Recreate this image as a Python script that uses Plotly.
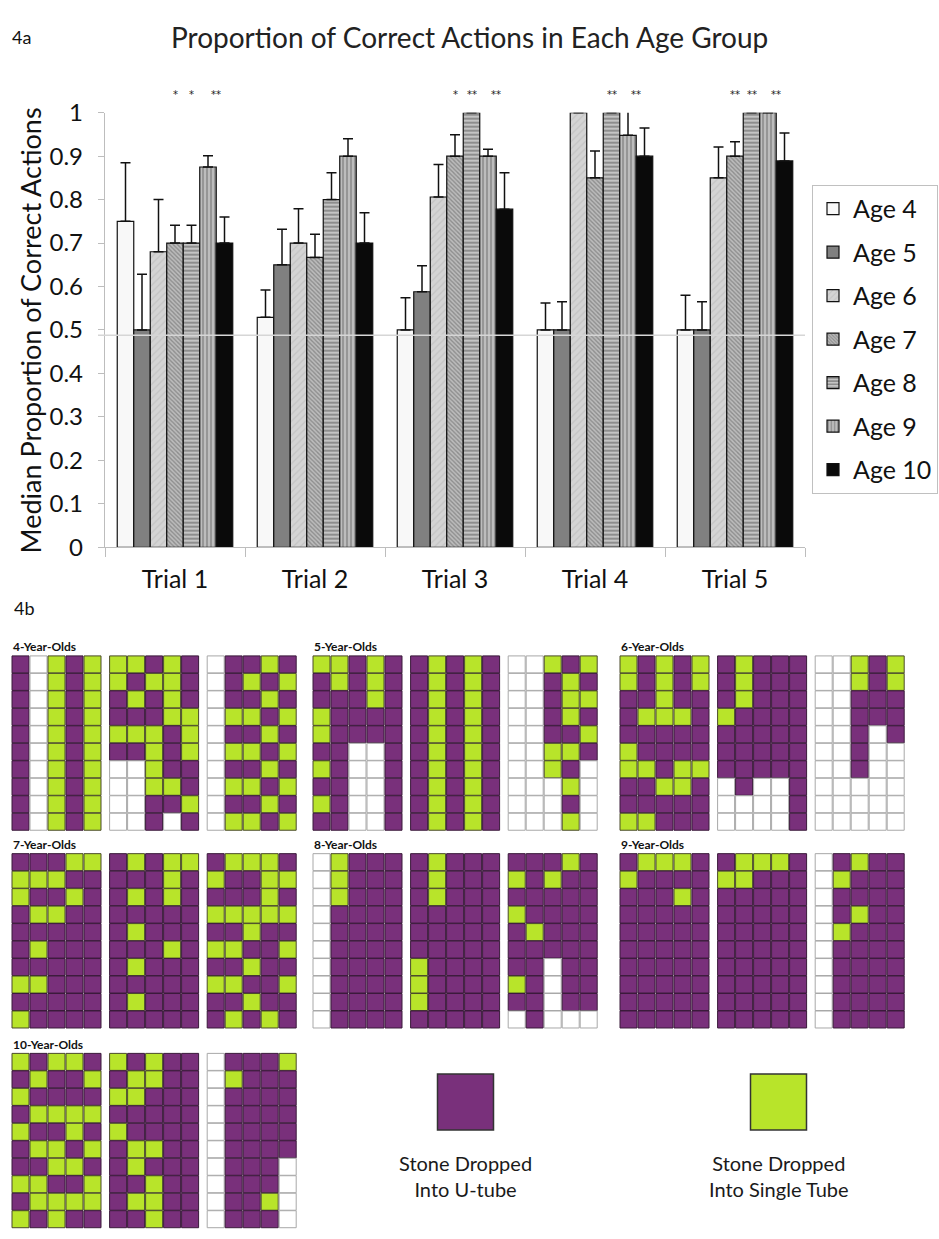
import plotly.graph_objects as go

# ---------------- DATA: 4a bar chart ----------------
trials = ["Trial 1", "Trial 2", "Trial 3", "Trial 4", "Trial 5"]
ages = ["Age 4", "Age 5", "Age 6", "Age 7", "Age 8", "Age 9", "Age 10"]

median_age4 = [0.75, 0.529, 0.50, 0.50, 0.50]
median_age5 = [0.50, 0.65, 0.588, 0.50, 0.50]
median_age6 = [0.68, 0.70, 0.806, 1.0, 0.85]
median_age7 = [0.70, 0.667, 0.90, 0.85, 0.90]
median_age8 = [0.70, 0.80, 1.0, 1.0, 1.0]
median_age9 = [0.875, 0.90, 0.90, 0.948, 1.0]
median_age10 = [0.70, 0.70, 0.778, 0.90, 0.889]

upper_age4 = [0.885, 0.592, 0.574, 0.562, 0.58]
upper_age5 = [0.628, 0.732, 0.648, 0.565, 0.565]
upper_age6 = [0.80, 0.779, 0.881, 1.003, 0.921]
upper_age7 = [0.741, 0.72, 0.949, 0.912, 0.933]
upper_age8 = [0.741, 0.862, 1.003, 1.003, 1.007]
upper_age9 = [0.901, 0.94, 0.916, 1.008, 1.0]
upper_age10 = [0.76, 0.77, 0.862, 0.965, 0.953]

medians = [median_age4, median_age5, median_age6, median_age7,
           median_age8, median_age9, median_age10]
uppers = [upper_age4, upper_age5, upper_age6, upper_age7,
          upper_age8, upper_age9, upper_age10]

chance_level = 0.488

# significance stars: (trial index, age slot, label)
star_trial = [0, 0, 0, 2, 2, 2, 3, 3, 4, 4, 4]
star_slot = [3, 4, 5.5, 3, 4, 5.5, 4, 5.5, 3, 4, 5.5]
star_text = ["*", "*", "**", "*", "**", "**", "**", "**", "**", "**", "**"]

# ---------------- DATA: 4b action grids ----------------
# U = stone dropped into U-tube, S = into single tube, . = no action
age_groups = ["4-Year-Olds", "5-Year-Olds", "6-Year-Olds",
              "7-Year-Olds", "8-Year-Olds", "9-Year-Olds", "10-Year-Olds"]

grids_4 = [
    ["U.SUS"] * 10,
    ["SSUSU", "SUSSU", "USUSU", "UUUSS", "SSSUS",
     "UUSUS", "..SUU", "..SSU", "..UUS", "..U.U"],
    [".UUSU", ".USUS", ".UUSU", ".SSUS", ".UUSU",
     ".SSUS", ".UUSU", ".SSUS", ".UUSU", ".SSUS"],
]
grids_5 = [
    ["SSUSU", "USUSU", "UUUSU", "SUUUU", "SUUUU",
     "UU..U", "SU..U", "UU..U", "SU..U", "UU..U"],
    ["USUSU"] * 10,
    ["..SUS", "..USU", "..USS", "..USU", "..UUS",
     "..SSU", "..SU.", "...S.", "...U.", "...S."],
]
grids_6 = [
    ["SUSUS", "SUSUS", "UUSUU", "USSSU", "UUUUU",
     "SUUUU", "SSUSS", "UUSSU", "UUUUU", "SSUUU"],
    ["USUUU", "USUUU", "USUUU", "SUUUU", "UUUUU",
     "UUUUU", "UUUUU", ".U..U", "....U", "....U"],
    ["..SUS", "..SUS", "..UUU", "..UUU", "..U.U",
     "..U..", "..U..", ".....", ".....", "....."],
]
grids_7 = [
    ["UUUSS", "SSSUU", "SUUSU", "USSUU", "UUUUU",
     "USUUU", "UUUUU", "SSUUU", "UUUUU", "SUUUU"],
    ["USUSS", "UUUSU", "USUSU", "UUUUU", "USUUU",
     "UUUSU", "USUUU", "UUUUU", "USUUU", "UUUUU"],
    ["USSSU", "SUUSS", "UUUSU", "SSSSS", "UUSUU",
     "SSUUS", "UUSUU", "SSUUS", "UUSUU", "USUSU"],
]
grids_8 = [
    [".SUUU", ".SUUU", ".SUUU", ".UUUU", ".UUUU",
     ".UUUU", ".UUUU", ".UUUU", ".UUUU", ".UUUU"],
    ["USUUU", "USUUU", "USUUU", "UUUUU", "UUUUU",
     "UUUUU", "SUUUU", "SUUUU", "SUUUU", "UUUUU"],
    ["UUUSU", "SUSUU", "UUUUU", "SUUUU", "USUUU",
     "UUUUU", "UU.UU", "SU.UU", "UU.UU", ".U..."],
]
grids_9 = [
    ["USSSU", "SUUUU", "UUUSU", "UUUUU", "UUUUU",
     "UUUUU", "UUUUU", "UUUUU", "UUUUU", "UUUUU"],
    ["USSSU", "SSUUU", "UUUUU", "UUUUU", "UUUUU",
     "UUUUU", "UUUUU", "UUUUU", "UUUUU", "UUUUU"],
    [".USUU", ".SUUU", ".UUUU", ".USUU", ".SUUU",
     ".UUUU", ".UUUU", ".UUUU", ".UUUU", ".UUUU"],
]
grids_10 = [
    ["SUSSU", "USUUS", "SUUUU", "USSSS", "SUUSU",
     "USSUS", "UUSSU", "SSUUS", "USSSS", "SUSUU"],
    ["SUSUU", "USSUU", "SSUUU", "UUUUU", "SUUUU",
     "USSUU", "USUUU", "UUSUU", "USSUU", "UUSUU"],
    [".UUUS", ".SUUU", ".UUUU", ".UUUU", ".UUUU",
     ".UUUU", ".UUU.", ".UUU.", ".UUS.", ".UUU."],
]
all_grids = [grids_4, grids_5, grids_6, grids_7, grids_8, grids_9, grids_10]

key_labels = ["Stone Dropped<br>Into U-tube", "Stone Dropped<br>Into Single Tube"]
key_states = ["U", "S"]

# ---------------- STYLE / LAYOUT ----------------
W, H = 939, 1239
FONT = "Lato"
PURPLE = "#79307b"
GREEN = "#b8e42a"
cell_fill = {"U": PURPLE, "S": GREEN, ".": "#ffffff"}
cell_line = {"U": "#3a1a3a", "S": "#4a4a2a", ".": "#a8a8a8"}

def py(px):  # pixel row -> paper fraction
    return 1 - px / H

bar_style = [
    dict(color="#f8f8f8"),
    dict(color="#808080"),
    dict(color="#cdcdcd", pattern=dict(shape="/", fgcolor="#b3b3b3", bgcolor="#d4d4d4", size=5, solidity=0.25)),
    dict(color="#a0a0a0", pattern=dict(shape="\\", fgcolor="#5e5e5e", bgcolor="#bcbcbc", size=3, solidity=0.45)),
    dict(color="#909090", pattern=dict(shape="-", fgcolor="#555555", bgcolor="#c4c4c4", size=4, solidity=0.5)),
    dict(color="#909090", pattern=dict(shape="|", fgcolor="#666666", bgcolor="#bdbdbd", size=4, solidity=0.45)),
    dict(color="#0a0a0a"),
]

BARGAP = 0.175

fig = go.Figure()

for i, age in enumerate(ages):
    plus = [u - m for u, m in zip(uppers[i], medians[i])]
    m = dict(bar_style[i])
    m["line"] = dict(color="#111111", width=1.2)
    fig.add_trace(go.Bar(
        x=trials, y=medians[i], name=age, legendgroup=age,
        marker=m, cliponaxis=False,
        error_y=dict(type="data", array=plus, arrayminus=[0] * len(plus),
                     symmetric=False, color="#111111", thickness=1.5, width=5),
        xaxis="x", yaxis="y",
    ))

# ---- 4b grids (drawn as square markers on a pixel-scaled axis) ----
GROUP_X = [11.5, 312.5, 619.5]
GROUP_Y = [655, 857.5, 1062]
LABEL_DY = -9
GRID_DX = 97.6
CELL_W = 18.0
CELL_H = 17.9

annotations = []
for g, grids in enumerate(all_grids):
    gx = GROUP_X[g % 3]
    gy = GROUP_Y[g // 3]
    annotations.append(dict(
        x=gx - 1, y=gy + LABEL_DY, xref="x2", yref="y2", text="<b>" + age_groups[g] + "</b>",
        showarrow=False, xanchor="left", yanchor="middle",
        font=dict(family=FONT, size=12, color="#111111")))
    for k, grid in enumerate(grids):
        xs, ys, fills, lines = [], [], [], []
        for r, row in enumerate(grid):
            for c, state in enumerate(row):
                xs.append(gx + k * GRID_DX + (c + 0.5) * CELL_W)
                ys.append(gy + (r + 0.5) * CELL_H)
                fills.append(cell_fill[state])
                lines.append(cell_line[state])
        fig.add_trace(go.Scatter(
            x=xs, y=ys, mode="markers", showlegend=False, hoverinfo="skip",
            marker=dict(symbol="square", size=17, color=fills,
                        line=dict(color=lines, width=1)),
            xaxis="x2", yaxis="y2", cliponaxis=False,
        ))

KEY_X = [465.5, 778.5]
KEY_Y = 1112
KEY_TEXT_Y = 1188
for kx, state, lab in zip(KEY_X, key_states, key_labels):
    fig.add_trace(go.Scatter(
        x=[kx], y=[KEY_Y], mode="markers", showlegend=False, hoverinfo="skip",
        marker=dict(symbol="square", size=56, color=cell_fill[state],
                    line=dict(color="#333333", width=1.5)),
        xaxis="x2", yaxis="y2", cliponaxis=False,
    ))
    annotations.append(dict(
        x=kx, y=KEY_TEXT_Y, xref="x2", yref="y2", text=lab, showarrow=False,
        xanchor="center", yanchor="middle", align="center",
        font=dict(family=FONT, size=20, color="#1a1a1a")))

# ---- stars ----
bw = (1 - BARGAP) / len(ages)
for t, s, txt in zip(star_trial, star_slot, star_text):
    annotations.append(dict(
        x=t + (s - 3) * bw, y=py(80), xref="x", yref="paper", text=txt,
        showarrow=False, xanchor="center", yanchor="middle",
        font=dict(family="DejaVu Sans", size=10, color="#222222")))

# ---- titles ----
annotations += [
    dict(x=10 / W, y=py(22), xref="paper", yref="paper", text="4a", showarrow=False,
         xanchor="left", yanchor="middle", font=dict(family=FONT, size=18, color="#111111")),
    dict(x=469 / W, y=py(22), xref="paper", yref="paper",
         text="Proportion of Correct Actions in Each Age Group", showarrow=False,
         xanchor="center", yanchor="middle", font=dict(family=FONT, size=28, color="#222222")),
    dict(x=30 / W, y=py(322), xref="paper", yref="paper",
         text="Median Proportion of Correct Actions", showarrow=False, textangle=-90,
         xanchor="center", yanchor="middle", font=dict(family=FONT, size=27, color="#111111")),
    dict(x=12 / W, y=py(606), xref="paper", yref="paper", text="4b", showarrow=False,
         xanchor="left", yanchor="middle", font=dict(family=FONT, size=18, color="#111111")),
]

fig.update_layout(
    width=W, height=H,
    margin=dict(l=0, r=0, t=0, b=0),
    paper_bgcolor="white", plot_bgcolor="white",
    barmode="group", bargap=BARGAP, bargroupgap=0,
    font=dict(family=FONT, color="#111111"),
    hovermode=False,
    xaxis=dict(domain=[105 / W, 805 / W], showline=True, linecolor="#bdbdbd", linewidth=1.2,
               ticks="outside", tickson="boundaries", ticklen=9, tickcolor="#bdbdbd",
               tickfont=dict(family=FONT, size=25, color="#111111"),
               ticklabelstandoff=10, showgrid=False, zeroline=False, anchor="y"),
    yaxis=dict(domain=[py(544), py(99)], range=[0, 1], dtick=0.1, showline=True,
               linecolor="#bdbdbd", linewidth=1.2, ticks="outside", ticklen=6, tickcolor="#bdbdbd",
               tickfont=dict(family=FONT, size=24, color="#111111"), ticklabelstandoff=10,
               showgrid=False, zeroline=False, anchor="x"),
    xaxis2=dict(domain=[0, 1], range=[0, W], visible=False, anchor="y2"),
    yaxis2=dict(domain=[0, py(620)], range=[H, 620], visible=False, anchor="x2"),
    legend=dict(x=812 / W, y=py(173), xanchor="left", yanchor="top",
                bordercolor="#c0c0c0", borderwidth=1, bgcolor="white",
                font=dict(family=FONT, size=25, color="#111111"),
                traceorder="grouped", tracegroupgap=8, itemwidth=30),
    shapes=[dict(type="line", xref="x domain", yref="y", x0=-0.01, x1=1.0,
                 y0=chance_level, y1=chance_level, layer="above",
                 line=dict(color="#d6d6d6", width=1.5))],
    annotations=annotations,
)

fig.write_html(
    "out.html",
    config={"displayModeBar": False, "staticPlot": True},
    post_script="document.body.style.margin='0';document.body.style.overflow='hidden';",
)
